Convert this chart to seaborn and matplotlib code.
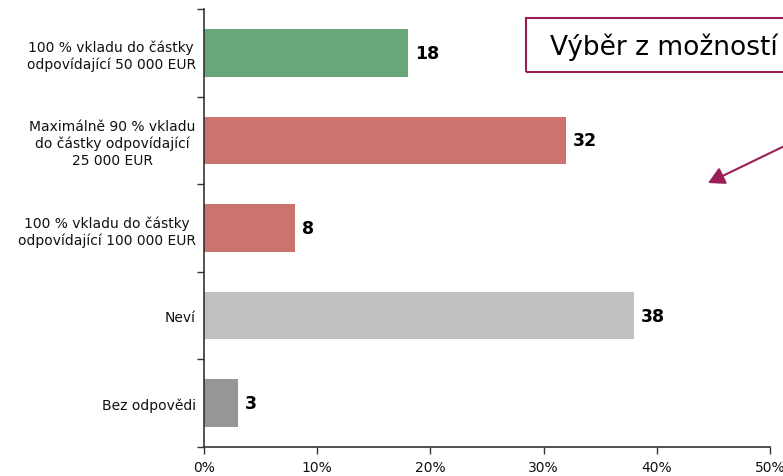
import matplotlib
matplotlib.use("Agg")
import matplotlib.pyplot as plt
from matplotlib.patches import Rectangle
from matplotlib.ticker import FixedLocator, PercentFormatter
import seaborn as sns
import pandas as pd

categories = [
    "100 % vkladu do částky\nodpovídající 50 000 EUR",
    "Maximálně 90 % vkladu\ndo částky odpovídající\n25 000 EUR",
    "100 % vkladu do částky\nodpovídající 100 000 EUR",
    "Neví",
    "Bez odpovědi",
]
shares = [18, 32, 8, 38, 3]
bar_colors = ["#68A77A", "#CC736F", "#CC736F", "#C0C0C0", "#969696"]
x_ticks = [0, 10, 20, 30, 40, 50]
callout = "Výběr z možností"
accent = "#9B1D58"

sns.set_theme(style="white")
plt.rcParams["font.family"] = ["DejaVu Sans"]

df = pd.DataFrame({"odpoved": categories, "podil": shares})

fig = plt.figure(figsize=(7.83, 4.77), dpi=100)
ax = fig.add_axes([204 / 783, 1 - 448 / 477, (770 - 204) / 783, (448 - 10) / 477])

sns.barplot(data=df, y="odpoved", x="podil", hue="odpoved", palette=bar_colors,
            order=categories, hue_order=categories, orient="h", width=0.545,
            legend=False, ax=ax, saturation=1, edgecolor="none")

ax.set_xlim(0, 50)
ax.set_ylim(len(categories) - 0.5, -0.5)
ax.set_xlabel("")
ax.set_ylabel("")

# value labels next to the bars
for cont in ax.containers:
    ax.bar_label(cont, fmt="%d", padding=5, fontsize=12.5, fontweight="bold", color="black")

# category labels centred on bars, tick marks between categories
ax.yaxis.set_major_locator(FixedLocator([i - 0.5 for i in range(len(categories) + 1)]))
ax.yaxis.set_minor_locator(FixedLocator(list(range(len(categories)))))
ax.set_yticklabels([""] * (len(categories) + 1))
ax.set_yticklabels(categories, minor=True, fontsize=10, linespacing=1.22,
                   multialignment="center", color="#111111")
ax.tick_params(axis="y", which="major", left=True, length=5, width=1, color="#333333")
ax.tick_params(axis="y", which="minor", left=True, length=0, pad=6)

ax.set_xticks(x_ticks)
ax.xaxis.set_major_formatter(PercentFormatter(decimals=0))
ax.tick_params(axis="x", bottom=True, length=5, width=1, color="#333333", pad=4,
               labelsize=10, labelcolor="#111111")

for side in ["top", "right"]:
    ax.spines[side].set_visible(False)
for side in ["left", "bottom"]:
    ax.spines[side].set_color("#333333")
    ax.spines[side].set_linewidth(1.2)

# callout box with pointer arrow
fig.add_artist(Rectangle((526 / 783, 1 - 73 / 477), 320 / 783, 54 / 477,
                         transform=fig.transFigure, fill=False, edgecolor=accent,
                         linewidth=1.5, clip_on=False))
fig.text(550 / 783, 1 - 47 / 477, callout, fontsize=19, ha="left", va="center",
         color="black")
ax.annotate("", xy=(708 / 783, 1 - 184 / 477), xycoords="figure fraction",
            xytext=(830 / 783, 1 - 125 / 477), textcoords="figure fraction",
            arrowprops=dict(arrowstyle="-|>,head_length=0.55,head_width=0.3",
                            color=accent, lw=1.5, mutation_scale=18,
                            shrinkA=0, shrinkB=0),
            annotation_clip=False)

fig.savefig("out.png", dpi=100)
